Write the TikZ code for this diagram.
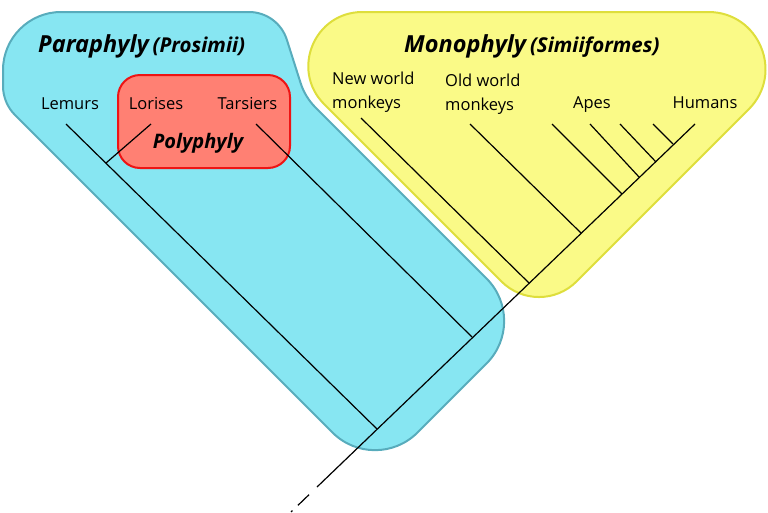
\documentclass[tikz,border=0pt]{standalone}
\usepackage{fontspec}
\setmainfont{Open Sans}
\usetikzlibrary{calc}
\definecolor{parafill}{RGB}{135,230,242}
\definecolor{paraline}{RGB}{88,172,188}
\definecolor{monofill}{RGB}{250,250,135}
\definecolor{monoline}{RGB}{222,222,60}
\definecolor{polyfill}{RGB}{255,128,115}
\definecolor{polyline}{RGB}{238,20,20}
\begin{document}
\begin{tikzpicture}[x=1pt,y=-1pt,
  lbl/.style={inner sep=0pt, font=\fontsize{16.5}{23.5}\selectfont},
  ttl/.style={inner sep=0pt, font=\fontsize{23.5}{28}\selectfont\bfseries\itshape},
  branch/.style={line width=1.2pt, black},
  region/.style={line width=2pt}]
\useasboundingbox (0,0) rectangle (768,512);

% ---- Paraphyly region (corners drawn as explicit curves)
\coordinate (P1) at (3,12);      \coordinate (P1a) at (3,70);       \coordinate (P1b) at (61,12);
\coordinate (P2) at (278,12);    \coordinate (P2a) at (249,12);     \coordinate (P2b) at (286.8,39.6);
\coordinate (P3) at (305,97);    \coordinate (P3a) at (300.5,82.7); \coordinate (P3b) at (315.6,107.6);
\coordinate (P4) at (529,321);   \coordinate (P4a) at (486.6,278.6);\coordinate (P4b) at (486.6,363.4);
\coordinate (P5) at (375,475);   \coordinate (P5a) at (417.4,432.6);\coordinate (P5b) at (332.6,432.6);
\coordinate (P6) at (3,103);     \coordinate (P6a) at (15,115);     \coordinate (P6b) at (3,86);
\path[region, fill=parafill, draw=paraline]
  (P1a) .. controls ($(P1a)!0.552!(P1)$) and ($(P1b)!0.552!(P1)$) .. (P1b)
  -- (P2a) .. controls ($(P2a)!0.596!(P2)$) and ($(P2b)!0.596!(P2)$) .. (P2b)
  -- (P3a) .. controls ($(P3a)!0.657!(P3)$) and ($(P3b)!0.657!(P3)$) .. (P3b)
  -- (P4a) .. controls ($(P4a)!0.552!(P4)$) and ($(P4b)!0.552!(P4)$) .. (P4b)
  -- (P5a) .. controls ($(P5a)!0.552!(P5)$) and ($(P5b)!0.552!(P5)$) .. (P5b)
  -- (P6a) .. controls ($(P6a)!0.640!(P6)$) and ($(P6b)!0.640!(P6)$) .. (P6b)
  -- cycle;

% ---- Monophyly region
\coordinate (M1) at (232,12);    \coordinate (M1a) at (324.2,104.2); \coordinate (M1b) at (362.4,12);
\coordinate (M2) at (846,12);    \coordinate (M2a) at (708.4,12);    \coordinate (M2b) at (748.7,109.3);
\coordinate (M3) at (539,319);   \coordinate (M3a) at (576.5,281.5); \coordinate (M3b) at (501.5,281.5);
\path[region, fill=monofill, draw=monoline]
  (M1a) .. controls ($(M1a)!0.369!(M1)$) and ($(M1b)!0.369!(M1)$) .. (M1b)
  -- (M2a) .. controls ($(M2a)!0.369!(M2)$) and ($(M2b)!0.369!(M2)$) .. (M2b)
  -- (M3a) .. controls ($(M3a)!0.552!(M3)$) and ($(M3b)!0.552!(M3)$) .. (M3b)
  -- cycle;

% ---- Polyphyly box
\path[region, fill=polyfill, draw=polyline, rounded corners=22pt]
  (118,75) rectangle (290,168);

% ---- tree
\coordinate (R) at (291,512);
\coordinate (S) at (317,487);
\coordinate (N1) at (377,429);
\coordinate (N2) at (472,337);
\coordinate (N3) at (529,283);
\coordinate (N4) at (581,233);
\coordinate (N5) at (622,194);
\coordinate (N6) at (639,177);
\coordinate (N7) at (656,162);
\coordinate (N8) at (673,144);
\coordinate (tHum) at (695,124);
\coordinate (tLem) at (66,124);
\coordinate (J) at (106,163);
\coordinate (tLor) at (151,124);
\coordinate (tTar) at (256,124);
\coordinate (tNew) at (361,118);
\coordinate (tOld) at (470,124);
\coordinate (tA1) at (552,124);
\coordinate (tA2) at (590,124);
\coordinate (tA3) at (620,124);
\coordinate (tA4) at (653,124);

\draw[branch] (S) -- (tHum);
\draw[branch, dash pattern=on 0pt off 11pt on 15.5pt off 7.5pt on 2pt off 20pt] (S) -- (R);
\draw[branch] (tLem) -- (N1);
\draw[branch] (tLor) -- (J);
\draw[branch] (tTar) -- (N2);
\draw[branch] (tNew) -- (N3);
\draw[branch] (tOld) -- (N4);
\draw[branch] (tA1) -- (N5);
\draw[branch] (tA2) -- (N6);
\draw[branch] (tA3) -- (N7);
\draw[branch] (tA4) -- (N8);

% ---- titles
\node[ttl, anchor=base west] (para) at (38,52) {Paraphyly\,{\fontsize{20.5}{24}\selectfont(Prosimii)}};
\node[ttl, anchor=base west] (mono) at (404,52) {Monophyly\,{\fontsize{20.5}{24}\selectfont(Simiiformes)}};
\node[inner sep=0pt, font=\fontsize{20}{24}\selectfont\bfseries\itshape, anchor=base] (poly) at (198,148) {Polyphyly};

% ---- labels
\node[lbl, anchor=base] (lem) at (70,109) {Lemurs};
\node[lbl, anchor=base] (lor) at (156,109) {Lorises};
\node[lbl, anchor=base] (tar) at (247.5,109) {Tarsiers};
\node[lbl, anchor=north west, align=left] (nwm) at (332,72) {New world\\monkeys};
\node[lbl, anchor=north west, align=left] (owm) at (445,74) {Old world\\monkeys};
\node[lbl, anchor=base] (apes) at (592,108) {Apes};
\node[lbl, anchor=base] (hum) at (705,108) {Humans};
\end{tikzpicture}
\end{document}
